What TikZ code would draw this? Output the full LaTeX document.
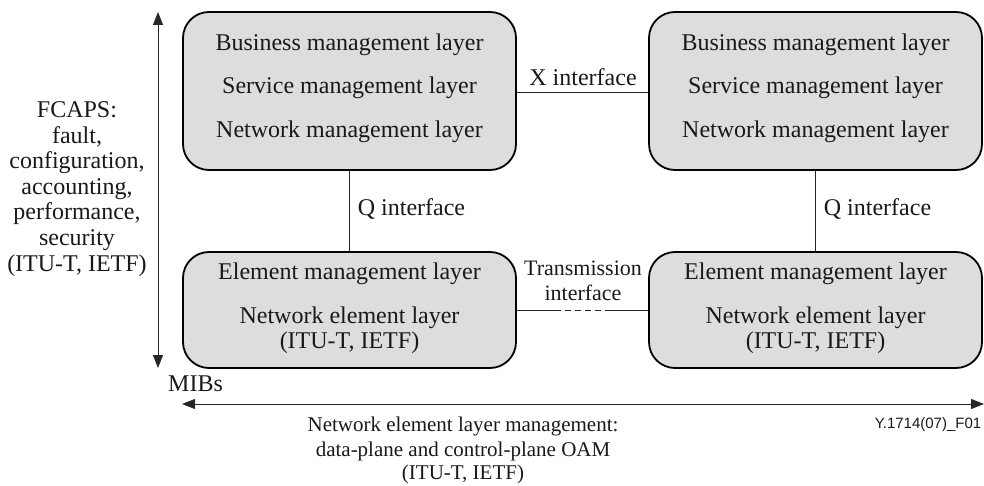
\documentclass[tikz,border=0pt]{standalone}
\usepackage{fontspec}
\setmainfont{Liberation Serif}
\newfontfamily\arialf{Liberation Sans}
\usetikzlibrary{arrows.meta}
\begin{document}
\begin{tikzpicture}[x=1pt,y=-1pt,
  layerbox/.style={draw=black,line width=1.8pt,fill=boxgray,rounded corners=26pt,inner sep=0pt},
  txt/.style={font=\fontsize{24}{24}\selectfont,inner sep=0pt,anchor=base,text=black!90},
  mtxt/.style={txt,font=\fontsize{22}{22}\selectfont},
  btxt/.style={txt,font=\fontsize{21}{21}\selectfont},
  conn/.style={line width=0.9pt,draw=black!85}
]
\definecolor{boxgray}{RGB}{221,221,221}
\useasboundingbox (0,0) rectangle (984,486);
% boxes
\node[layerbox,minimum width=333pt,minimum height=158pt] (tl) at (349.5,91) {};
\node[layerbox,minimum width=333pt,minimum height=158pt] (tr) at (815.5,91) {};
\node[layerbox,minimum width=333pt,minimum height=116pt] (bl) at (349.5,310) {};
\node[layerbox,minimum width=333pt,minimum height=116pt] (br) at (815.5,310) {};
% box text
\node[txt] (tl1) at (349.5,51) {Business management layer};
\node[txt] (tl2) at (349.5,94) {Service management layer};
\node[txt] (tl3) at (349.5,138) {Network management layer};
\node[txt] (tr1) at (815.5,51) {Business management layer};
\node[txt] (tr2) at (815.5,94) {Service management layer};
\node[txt] (tr3) at (815.5,138) {Network management layer};
\node[txt] (bl1) at (349.5,279) {Element management layer};
\node[txt] (bl2) at (349.5,323) {Network element layer};
\node[txt] (bl3) at (349.5,348) {(ITU-T, IETF)};
\node[txt] (br1) at (815.5,279) {Element management layer};
\node[txt] (br2) at (815.5,323) {Network element layer};
\node[txt] (br3) at (815.5,348) {(ITU-T, IETF)};
% connectors
\draw[conn] (tl.south) -- (bl.north);
\draw[conn] (tr.south) -- (br.north);
\draw[conn] (tl.east |- 0,92) -- (tr.west |- 0,92);
\coordinate (d1) at (555,310);
\coordinate (d2) at (611,310);
\draw[conn] (bl.east) -- (d1);
\draw[conn,dash pattern=on 6pt off 4pt] (d1) -- (d2);
\draw[conn] (d2) -- (br.west);
\node[txt] (xif) at (583,86) {X interface};
\node[txt] (qif1) at (411.5,216) {Q interface};
\node[txt] (qif2) at (877.5,216) {Q interface};
\node[mtxt] (tif1) at (583,275) {Transmission};
\node[mtxt] (tif2) at (583,300) {interface};
% left axis
\coordinate (va) at (158,12);
\coordinate (vb) at (158,368);
\draw[conn,{Triangle[length=13pt,width=10pt]}-{Triangle[length=13pt,width=10pt]}] (vb) -- (va);
\node[txt] (f1) at (77,118) {FCAPS:};
\node[txt] (f2) at (77,143.5) {fault,};
\node[txt] (f3) at (77,169) {configuration,};
\node[txt] (f4) at (77,194.5) {accounting,};
\node[txt] (f5) at (77,220) {performance,};
\node[txt] (f6) at (77,245.5) {security};
\node[txt] (f7) at (77,271) {(ITU-T, IETF)};
\node[txt,anchor=base west] (mib) at (168,391) {MIBs};
% bottom axis
\coordinate (ha) at (182,404);
\coordinate (hb) at (984,404);
\draw[conn,{Triangle[length=13pt,width=10pt]}-{Triangle[length=13pt,width=10pt]}] (ha) -- (hb);
\node[btxt] (n1) at (463,431) {Network element layer management:};
\node[btxt] (n2) at (463,456) {data-plane and control-plane OAM};
\node[btxt] (n3) at (463,479) {(ITU-T, IETF)};
\node[font=\arialf\fontsize{15}{15}\selectfont,inner sep=0pt,anchor=base,text=black!90] (fid) at (928,428) {Y.1714(07)\_F01};
\end{tikzpicture}
\end{document}
